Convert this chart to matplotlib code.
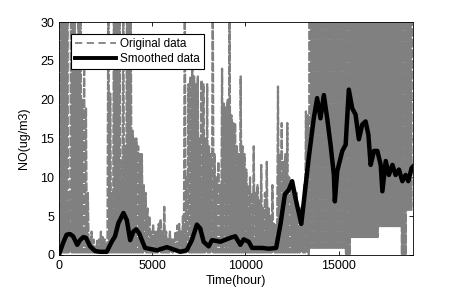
import numpy as np
import matplotlib
matplotlib.use("Agg")
import matplotlib.pyplot as plt
from matplotlib.lines import Line2D

plt.rcParams['font.family'] = ['Liberation Sans', 'DejaVu Sans']

# Original (hourly) data summarised per 100-hour bin: bin peak and bin trough
bin_width = 100
orig_high = [
    35, 35, 35, 35, 35, 8, 35, 35, 35, 24,
    35, 35, 20, 25, 19, 8, 2, 3, 2, 1,
    2, 2, 3, 2.3, 2, 1.5, 35, 20.8, 8, 35,
    35, 35, 35, 12, 35, 14, 35, 35, 35, 16,
    15, 15, 14, 13, 13, 9, 8, 6, 5, 3,
    4, 3, 3, 4, 4.6, 3, 6.2, 3, 2, 3,
    2, 2, 3, 3.8, 4, 3, 5, 35, 10, 22,
    23, 24.5, 23, 22, 23, 15, 22.5, 22, 15, 22,
    14, 13, 35, 13, 10, 12, 9, 24, 19.5, 19,
    20, 35, 18, 17, 17, 14, 13, 23, 14, 13,
    11, 9, 10, 8, 14, 8, 9, 7, 11.6, 6,
    8, 12, 6, 5, 9, 4, 4, 21.7, 13, 17,
    12, 13, 17, 10, 9, 8, 7, 8, 6, 6,
    5, 9, 18.5, 18, 35, 35, 35, 35, 35, 35,
    35, 35, 35, 35, 35, 35, 35, 35, 35, 35,
    35, 35, 35, 35, 35, 35, 35, 35, 35, 35,
    35, 35, 35, 35, 35, 35, 35, 35, 35, 35,
    35, 35, 35, 35, 35, 35, 35, 35, 35, 35,
    35, 35, 35, 35, 35, 35, 35, 35, 35, 35,
]
orig_low = [
    0.3, 0.3, 0.3, 0.3, 0.3, 0.3, 0.3, 0.3, 0.3, 0.3,
    0.3, 0.3, 0.3, 0.3, 0.3, 0.3, 0.3, 0.3, 0.3, 0.3,
    0.3, 0.3, 0.3, 0.3, 0.3, 0.3, 0.3, 0.3, 0.3, 0.3,
    0.3, 0.3, 0.3, 0.3, 0.3, 0.3, 0.3, 0.3, 0.3, 0.3,
    0.3, 0.3, 0.3, 0.3, 0.3, 0.3, 0.3, 0.3, 0.3, 0.3,
    0.3, 0.3, 0.3, 0.3, 0.3, 0.3, 0.3, 0.3, 0.3, 0.3,
    0.3, 0.3, 0.3, 0.3, 0.3, 0.3, 0.3, 0.3, 0.3, 0.3,
    0.3, 0.3, 0.3, 0.3, 0.3, 0.3, 0.3, 0.3, 0.3, 0.3,
    0.3, 0.3, 0.3, 0.3, 0.3, 0.3, 0.3, 0.3, 0.3, 0.3,
    0.3, 0.3, 0.3, 0.3, 0.3, 0.3, 0.3, 0.3, 0.3, 0.3,
    0.3, 0.3, 0.3, 0.3, 0.3, 0.3, 0.3, 0.3, 0.3, 0.3,
    0.3, 0.3, 0.3, 0.3, 0.3, 0.3, 0.3, 0.3, 0.3, 0.3,
    0.3, 0.3, 0.3, 0.3, 0.3, 0.3, 0.3, 0.3, 0.3, 0.3,
    0.3, 0.3, 0.3, 0.3, 0, 0.9, 0.9, 0.9, 0.9, 0.9,
    0.9, 0.9, 0.9, 0.9, 0.9, 0.9, 0.9, 0.9, 0.9, 0.9,
    0.9, 0.9, 0.9, 0.9, 0, 0, 0, 2.3, 2.3, 2.3,
    2.3, 2.3, 2.3, 2.3, 2.3, 2.3, 2.3, 2.3, 2.3, 2.3,
    2.3, 2.3, 3.7, 3.7, 3.7, 3.7, 3.7, 3.7, 3.7, 3.7,
    3.7, 3.7, 3.7, 3.7, 0, 0, 0, 5.8, 5.8, 5.8,
]

# Smoothed data
smooth_hours = [
    0, 215, 410, 590, 760, 980, 1130, 1310, 1450, 1670,
    1940, 2200, 2560, 2830, 3010, 3190, 3460, 3640, 3820, 3990,
    4140, 4300, 4450, 4620, 5250, 5790, 6500, 6860, 7130, 7400,
    7580, 7760, 8030, 8210, 8660, 9190, 9460, 9730, 9910, 10180,
    10360, 10900, 11260, 11650, 11880, 12120, 12330, 12510, 12690, 13000,
    13400, 13670, 13850, 14030, 14210, 14390, 14570, 14750, 14800, 14930,
    15200, 15380, 15550, 15730, 15910, 16090, 16270, 16450, 16600, 16720,
    16900, 17080, 17260, 17350, 17530, 17700, 17890, 18060, 18240, 18420,
    18600, 18740, 18920, 19000,
]
smooth_values = [
    0, 1.5, 2.6, 2.7, 2.4, 1.3, 1.9, 2.3, 2.2, 1.1,
    0.5, 0.4, 0.4, 1.7, 2.4, 4.1, 5.4, 4.5, 1.9, 3.0,
    3.3, 2.8, 1.9, 0.9, 0.6, 1.0, 0.4, 0.6, 1.9, 3.9,
    3.4, 1.7, 1.1, 1.9, 1.7, 2.2, 2.4, 1.3, 2.0, 1.7,
    0.9, 0.9, 0.8, 0.9, 3.9, 7.8, 8.4, 9.5, 7.3, 4.0,
    12.5, 17.6, 20.2, 17.6, 20.6, 17.6, 14.2, 10.3, 6.9, 10.8,
    13.4, 14.2, 21.3, 18.9, 18.1, 14.9, 16.8, 17.2, 15.5, 11.6,
    13.4, 13.4, 11.6, 8.2, 12.1, 10.3, 11.6, 10.3, 11.0, 9.5,
    10.3, 9.5, 11.2, 11.4,
]

GRAY = '#808080'

# build zig-zag hourly trace from bin troughs/peaks
n = len(orig_high)
starts = np.arange(n) * bin_width
orig_x = np.column_stack([starts, starts + bin_width / 2]).ravel()
orig_y = np.column_stack([orig_low, orig_high]).ravel()

fig = plt.figure(figsize=(4.57, 2.91), dpi=100)
ax = fig.add_axes([0.129, 0.124, 0.775, 0.8])

ax.plot(orig_x, orig_y, color=GRAY, lw=1.6, ls=(0, (4, 0.8)))
ax.plot(smooth_hours, smooth_values, color='black', lw=3.2,
        solid_joinstyle='round')

ax.set_xlim(0, 19000)
ax.set_ylim(0, 30)
ax.set_xticks([0, 5000, 10000, 15000])
ax.set_yticks([0, 5, 10, 15, 20, 25, 30])
ax.tick_params(direction='in', top=True, right=True, labelsize=9,
               length=3, width=0.6)
for s in ax.spines.values():
    s.set_linewidth(0.6)
ax.set_xlabel('Time(hour)', fontsize=9, labelpad=2)
ax.set_ylabel('NO(ug/m3)', fontsize=9, labelpad=7)

handles = [
    Line2D([], [], color=GRAY, lw=1.3, ls=(0, (4, 2.5))),
    Line2D([], [], color='black', lw=2.8),
]
leg = ax.legend(handles, ['Original data', 'Smoothed data'],
                loc='upper left', bbox_to_anchor=(0.035, 0.95), fontsize=8.5,
                frameon=True, fancybox=False, edgecolor='black',
                borderpad=0.35, labelspacing=0.25, handlelength=3.4,
                handletextpad=0.4, borderaxespad=0)
leg.get_frame().set_linewidth(0.8)
leg.get_frame().set_alpha(1)

fig.savefig('out.png', dpi=100)
